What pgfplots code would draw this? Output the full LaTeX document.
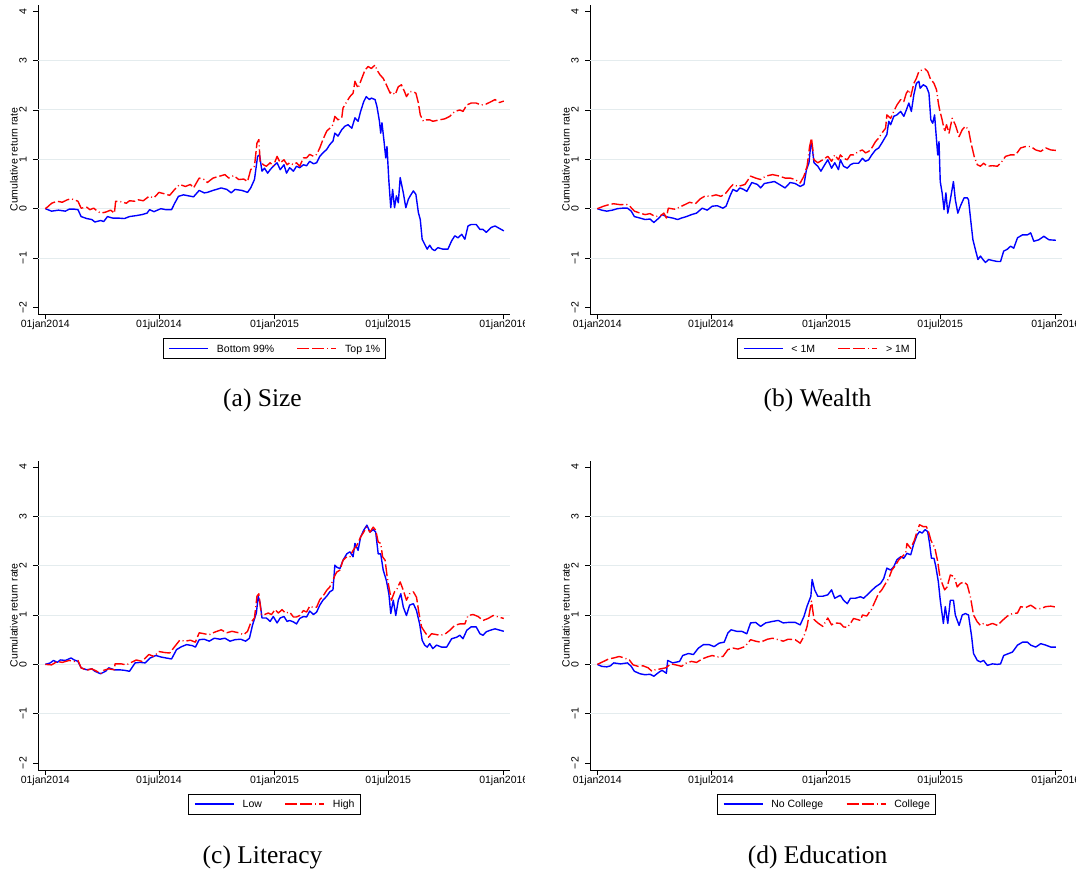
\documentclass[border=0pt]{standalone}
\usepackage{pgfplots}
\pgfplotsset{compat=1.18}
\usepackage{fontspec}
\setmainfont{Liberation Sans}
\newfontfamily\capfont{Liberation Serif}

\definecolor{gridgray}{RGB}{228,236,238}
\newcommand{\stfont}{\fontsize{10.5}{12.6}\selectfont}
\newcommand{\capsize}{\capfont\fontsize{25.5}{30}\selectfont}

% x is the day count from 01jan2014; y is the cumulative return rate
\pgfplotsset{
  cumret/.style={
    scale only axis, width=472pt, height=309.5pt,
    xmin=-11, xmax=740.5, ymin=-2.14, ymax=4.13,
    axis x line*=bottom, axis y line*=left,
    axis line style={-, line width=0.8pt, black},
    tick align=outside, major tick length=5pt,
    every tick/.style={black, line width=0.8pt},
    xtick={0,181,365,546,730},
    xticklabels={01jan2014,01jul2014,01jan2015,01jul2015,01jan2016},
    ytick={-2,-1,0,1,2,3,4},
    yticklabels={−2,−1,0,1,2,3,4},
    extra y ticks={-1,0,1,2,3},
    extra y tick labels={},
    extra y tick style={grid=major, major tick length=0pt},
    major grid style={gridgray, line width=0.9pt},
    tick label style={font=\stfont},
    xticklabel style={anchor=north, inner sep=0pt},
    yticklabel style={rotate=90, anchor=south, inner sep=0pt},
    xticklabel shift=0.8pt,
    yticklabel shift=6.5pt,
    ylabel={Cumulative return rate},
    every axis y label/.style={at={(axis description cs:-0.0522,0.5)},
      rotate=90, anchor=center, inner sep=0pt, font=\stfont},
    legend columns=2,
    legend style={at={(0.5,-0.0766)}, anchor=north, draw=black,
      line width=0.8pt, fill=white, inner xsep=5.5pt, inner ysep=6.2pt,
      font=\stfont,
      nodes={inner sep=0pt, text height=7.6pt, text depth=0pt},
      /tikz/every odd column/.append style={column sep=8pt},
      /tikz/every even column/.append style={column sep=22.6pt}},
    legend cell align=left,
    legend image code/.code={\draw[##1, line width=1.4pt] (0pt,0pt) -- (39pt,0pt);},
  },
  lo/.style={draw=blue, color=blue, line width=1.4pt, line join=round},
  hi/.style={draw=red, color=red, line width=1.4pt, line join=round,
    dash pattern=on 12pt off 3pt on 12pt off 3pt on 1pt off 3pt},
}

\begin{document}
\begin{tikzpicture}[x=1pt,y=1pt]
\path[use as bounding box] (0,0) rectangle (1076,-871);
% lower-left corners of the four plot areas
\coordinate (pa) at (38.4,-314.3);
\coordinate (pb) at (590.4,-314.3);
\coordinate (pc) at (38.4,-770);
\coordinate (pd) at (590.4,-770);

% ---------- (a) Size ----------
\begin{scope}
\clip (0,0) rectangle (524,-440);
\begin{axis}[cumret, at={(pa)}, anchor=south west]
\addplot[lo] coordinates {
(0,0) (10,-0.05) (21,-0.03) (32,-0.05) (38,-0.01) (46,-0.01) (52,-0.02) (57,-0.16)
(66,-0.20) (74,-0.22) (79,-0.27) (88,-0.24) (93,-0.26) (99,-0.16) (107,-0.19)
(115,-0.19) (126,-0.20) (134,-0.16) (145,-0.14) (154,-0.12) (162,-0.09) (166,-0.02)
(173,-0.06) (184,0) (192,-0.02) (201,-0.02) (206,0.11) (212,0.25) (220,0.28)
(228,0.26) (236,0.24) (245,0.37) (253,0.32) (258,0.33) (267,0.37) (275,0.40)
(280,0.42) (289,0.39) (296,0.32) (302,0.39) (313,0.37) (322,0.33) (327,0.42)
(333,0.59) (338,1.06) (341,1.09) (345,0.76) (349,0.82) (354,0.72) (358,0.79)
(363,0.86) (369,0.93) (374,0.79) (380,0.89) (384,0.72) (389,0.83) (395,0.76)
(400,0.86) (405,0.83) (411,0.89) (416,0.87) (421,0.96) (427,0.91) (432,0.93)
(437,1.06) (442,1.13) (448,1.20) (453,1.30) (458,1.37) (461,1.53) (466,1.47)
(472,1.60) (477,1.67) (482,1.70) (488,1.63) (493,1.84) (498,1.77) (502,1.97)
(507,2.17) (511,2.27) (516,2.21) (519,2.24) (525,2.21) (528,2.07) (532,1.77)
(534,1.53) (536,1.74) (539,1.40) (542,1.03) (544,1.26) (547,0.56) (550,0.02)
(553,0.39) (556,0.02) (559,0.26) (562,0.12) (565,0.63) (570,0.32) (574,0.02)
(578,0.19) (581,0.26) (586,0.36) (590,0.29) (594,-0.08) (597,-0.22) (600,-0.62)
(604,-0.72) (608,-0.82) (612,-0.74) (616,-0.82) (620,-0.85) (625,-0.79) (633,-0.82)
(641,-0.82) (647,-0.65) (652,-0.55) (657,-0.59) (663,-0.52) (668,-0.62) (673,-0.35)
(678,-0.32) (686,-0.32) (692,-0.42) (697,-0.42) (702,-0.48) (710,-0.38) (716,-0.35)
(723,-0.40) (730,-0.45)
};
\addlegendentry{Bottom 99\%}
\addplot[hi] coordinates {
(0,0) (5,0.05) (10,0.11) (19,0.15) (27,0.13) (35,0.18) (41,0.20) (46,0.18) (52,0.15)
(57,0.01) (66,0.03) (71,-0.02) (77,0.01) (82,-0.04) (88,-0.09) (96,-0.07) (104,-0.03)
(110,-0.09) (112,0.15) (121,0.14) (129,0.11) (134,0.16) (143,0.15) (148,0.18)
(156,0.16) (165,0.25) (173,0.22) (181,0.33) (190,0.30) (198,0.27) (206,0.39)
(214,0.49) (223,0.45) (231,0.49) (236,0.42) (245,0.62) (253,0.59) (258,0.53)
(267,0.62) (278,0.66) (286,0.69) (292,0.62) (300,0.67) (308,0.59) (316,0.60)
(322,0.55) (327,0.79) (333,0.86) (337,1.33) (340,1.40) (342,0.96) (347,0.89)
(352,0.86) (358,0.93) (363,0.86) (369,1.06) (374,0.93) (380,0.99) (385,0.89)
(389,0.93) (395,0.89) (400,0.93) (405,0.86) (411,1.03) (416,1.03) (421,1.10)
(427,1.06) (432,1.10) (437,1.23) (442,1.40) (448,1.57) (453,1.63) (458,1.70)
(461,1.87) (466,1.80) (472,1.84) (474,2.04) (480,2.17) (485,2.27) (490,2.34)
(493,2.58) (498,2.44) (503,2.61) (509,2.81) (514,2.88) (519,2.84) (525,2.91)
(528,2.81) (533,2.71) (538,2.64) (543,2.51) (549,2.34) (551,2.37) (557,2.31)
(562,2.47) (567,2.51) (572,2.37) (575,2.27) (580,2.37) (586,2.37) (590,2.34)
(594,2.14) (597,1.90) (602,1.77) (607,1.80) (612,1.80) (617,1.77) (628,1.80)
(636,1.82) (644,1.87) (652,1.97) (660,2.00) (665,1.97) (671,2.10) (678,2.14)
(686,2.14) (694,2.10) (702,2.12) (710,2.17) (716,2.21) (723,2.15) (730,2.18)
};
\addlegendentry{Top 1\%}
\end{axis}
\end{scope}

% ---------- (b) Wealth ----------
\begin{scope}
\clip (538,0) rectangle (1076,-440);
\begin{axis}[cumret, at={(pb)}, anchor=south west]
\addplot[lo] coordinates {
(0,0) (7,-0.03) (15,-0.05) (24,-0.03) (32,0) (40,0.01) (48,0.01) (54,-0.05)
(59,-0.16) (68,-0.19) (76,-0.22) (84,-0.21) (90,-0.28) (98,-0.19) (103,-0.12)
(112,-0.17) (120,-0.19) (128,-0.22) (134,-0.19) (142,-0.16) (150,-0.12) (158,-0.09)
(167,0.01) (175,-0.03) (183,0.05) (191,0.06) (200,0.01) (205,0.05) (211,0.25)
(216,0.39) (222,0.35) (227,0.42) (233,0.39) (238,0.35) (246,0.53) (255,0.49)
(260,0.42) (266,0.51) (274,0.53) (282,0.55) (290,0.49) (299,0.42) (307,0.53)
(315,0.51) (323,0.45) (329,0.49) (333,0.79) (337,0.93) (340,1.33) (342,1.26)
(345,0.93) (351,0.86) (356,0.76) (362,0.89) (367,0.99) (373,0.82) (378,0.93)
(384,0.79) (387,0.99) (392,0.86) (398,0.82) (403,0.89) (408,0.92) (416,0.92)
(422,1.02) (427,0.96) (432,0.99) (437,1.09) (443,1.19) (448,1.23) (453,1.33)
(459,1.46) (461,1.50) (464,1.77) (467,1.70) (472,1.87) (477,1.90) (483,1.97)
(488,1.87) (492,2.00) (496,2.14) (500,1.97) (504,2.31) (508,2.54) (512,2.58)
(514,2.44) (519,2.51) (524,2.47) (528,2.34) (531,1.80) (534,1.73) (537,1.90)
(540,1.40) (542,1.09) (544,1.36) (546,0.55) (549,0.32) (552,-0.02) (555,0.32)
(558,-0.09) (562,0.18) (567,0.55) (570,0.18) (574,-0.09) (578,0.05) (584,0.22)
(589,0.22) (591,0.18) (595,-0.29) (598,-0.63) (602,-0.83) (606,-1.03) (610,-0.96)
(614,-1.03) (618,-1.09) (623,-1.03) (629,-1.05) (637,-1.07) (642,-1.07) (647,-0.86)
(653,-0.82) (658,-0.76) (663,-0.80) (669,-0.59) (677,-0.53) (685,-0.53) (690,-0.49)
(695,-0.66) (703,-0.63) (711,-0.56) (719,-0.63) (730,-0.64)
};
\addlegendentry{< 1M}
\addplot[hi] coordinates {
(0,0) (10,0.05) (18,0.08) (26,0.10) (37,0.08) (46,0.09) (51,0.06) (59,-0.05)
(68,-0.09) (76,-0.12) (84,-0.10) (92,-0.16) (101,-0.14) (106,-0.09) (110,-0.19)
(113,0.01) (123,-0.01) (131,0.03) (139,0.08) (147,0.13) (156,0.10) (164,0.20)
(172,0.26) (180,0.25) (189,0.28) (197,0.25) (205,0.32) (211,0.42) (216,0.49)
(224,0.45) (235,0.49) (244,0.66) (252,0.62) (260,0.59) (268,0.66) (279,0.69)
(290,0.66) (299,0.62) (307,0.62) (315,0.59) (323,0.52) (329,0.66) (334,0.86)
(338,1.26) (341,1.43) (345,0.99) (351,0.93) (359,0.99) (367,1.06) (373,0.96)
(378,1.09) (384,0.99) (387,1.09) (392,1.02) (398,0.99) (403,1.09) (408,1.09)
(416,1.16) (422,1.19) (427,1.13) (432,1.16) (437,1.23) (443,1.36) (448,1.43)
(453,1.53) (459,1.63) (461,1.90) (467,1.83) (472,1.97) (477,2.10) (483,2.21)
(488,2.17) (492,2.34) (496,2.41) (499,2.27) (504,2.54) (508,2.64) (512,2.78)
(517,2.81) (522,2.83) (526,2.78) (530,2.64) (536,2.54) (540,2.41) (543,2.14)
(545,2.00) (549,1.80) (553,1.56) (556,1.70) (560,1.53) (565,1.83) (570,1.70)
(576,1.46) (581,1.60) (586,1.67) (591,1.60) (595,1.33) (600,1.06) (605,0.89)
(610,0.86) (615,0.92) (621,0.86) (629,0.87) (637,0.86) (642,0.92) (650,1.06)
(658,1.09) (666,1.09) (674,1.23) (682,1.26) (690,1.26) (698,1.19) (706,1.16)
(714,1.23) (722,1.19) (730,1.18)
};
\addlegendentry{> 1M}
\end{axis}
\end{scope}

% ---------- (c) Literacy ----------
\begin{scope}
\clip (0,-440) rectangle (524,-871);
\begin{axis}[cumret, at={(pc)}, anchor=south west]
\addplot[lo] coordinates {
(0,0) (8,0.03) (13,0.08) (19,0.04) (24,0.09) (32,0.08) (41,0.13) (46,0.09) (52,0.06)
(57,-0.07) (66,-0.11) (74,-0.09) (79,-0.14) (88,-0.19) (96,-0.14) (101,-0.07)
(110,-0.11) (118,-0.11) (126,-0.12) (134,-0.14) (143,0.03) (151,0.04) (159,0.03)
(167,0.13) (176,0.18) (184,0.15) (192,0.13) (201,0.11) (209,0.30) (217,0.36)
(225,0.40) (234,0.38) (239,0.35) (245,0.50) (253,0.51) (261,0.47) (269,0.53)
(278,0.51) (286,0.53) (294,0.47) (302,0.50) (311,0.51) (319,0.47) (325,0.53)
(330,0.80) (336,1.04) (339,1.38) (342,1.24) (345,0.94) (352,0.94) (358,0.87)
(363,0.97) (369,0.84) (374,0.94) (380,0.97) (385,0.87) (389,0.89) (395,0.86)
(400,0.82) (405,0.93) (411,0.97) (416,0.96) (421,1.08) (427,1.01) (432,1.06)
(437,1.20) (442,1.30) (448,1.38) (453,1.47) (458,1.51) (461,2.01) (464,1.97)
(469,1.94) (474,2.11) (480,2.24) (485,2.28) (490,2.18) (493,2.45) (498,2.31)
(502,2.58) (507,2.72) (512,2.82) (517,2.68) (522,2.73) (526,2.68) (530,2.24)
(534,2.24) (538,1.91) (543,1.70) (547,1.43) (550,1.03) (554,1.30) (558,0.99)
(562,1.30) (566,1.43) (570,1.16) (575,0.99) (580,1.20) (586,1.23) (591,1.09)
(596,0.82) (600,0.49) (604,0.39) (608,0.35) (612,0.42) (617,0.32) (623,0.39)
(631,0.35) (639,0.35) (647,0.52) (655,0.55) (660,0.59) (665,0.52) (671,0.69)
(678,0.76) (686,0.76) (692,0.62) (697,0.59) (702,0.66) (708,0.69) (716,0.72)
(730,0.67)
};
\addlegendentry{Low}
\addplot[hi] coordinates {
(0,0) (10,-0.01) (19,0.06) (27,0.04) (38,0.08) (46,0.06) (52,0.08) (57,-0.07)
(66,-0.12) (74,-0.09) (82,-0.14) (88,-0.19) (93,-0.12) (101,-0.09) (110,-0.11)
(111,0.01) (121,0.01) (129,-0.01) (137,0.04) (145,0.09) (154,0.06) (165,0.20)
(173,0.16) (181,0.26) (190,0.24) (198,0.23) (206,0.36) (214,0.49) (223,0.47)
(231,0.49) (239,0.45) (245,0.64) (253,0.62) (261,0.60) (269,0.65) (280,0.70)
(289,0.64) (297,0.67) (308,0.64) (316,0.60) (322,0.67) (327,0.84) (333,0.94)
(337,1.38) (340,1.43) (344,1.01) (349,1.01) (355,1.04) (360,1.01) (366,1.11)
(371,1.04) (377,1.11) (382,1.04) (389,1.06) (395,0.96) (400,0.96) (405,0.99)
(411,1.09) (416,1.06) (421,1.18) (427,1.15) (432,1.16) (437,1.31) (442,1.38)
(448,1.50) (453,1.57) (458,1.70) (461,1.80) (464,1.87) (469,1.91) (474,2.11)
(480,2.18) (485,2.18) (490,2.31) (496,2.41) (502,2.58) (507,2.68) (511,2.78)
(517,2.68) (522,2.78) (526,2.72) (530,2.48) (534,2.45) (537,2.18) (541,2.11)
(544,1.80) (547,1.57) (551,1.30) (556,1.47) (560,1.53) (565,1.67) (570,1.50)
(575,1.30) (580,1.43) (586,1.47) (591,1.36) (595,1.03) (599,0.76) (604,0.66)
(610,0.55) (615,0.62) (620,0.61) (628,0.59) (636,0.61) (644,0.69) (652,0.79)
(660,0.82) (668,0.82) (673,0.99) (681,1.01) (689,0.97) (697,0.89) (705,0.93)
(713,0.99) (730,0.93)
};
\addlegendentry{High}
\end{axis}
\end{scope}

% ---------- (d) Education ----------
\begin{scope}
\clip (538,-440) rectangle (1076,-871);
\begin{axis}[cumret, at={(pd)}, anchor=south west]
\addplot[lo] coordinates {
(0,0) (7,-0.04) (15,-0.05) (21,-0.03) (26,0.03) (37,0.01) (48,0.03) (54,-0.04)
(59,-0.14) (68,-0.19) (76,-0.21) (84,-0.20) (90,-0.24) (98,-0.16) (103,-0.12)
(110,-0.18) (112,0.08) (120,0.03) (131,0.06) (136,0.18) (145,0.22) (153,0.20)
(161,0.33) (169,0.40) (178,0.40) (186,0.36) (194,0.43) (202,0.45) (208,0.64)
(213,0.70) (222,0.67) (230,0.67) (238,0.62) (244,0.84) (252,0.85) (260,0.77)
(268,0.84) (279,0.87) (288,0.89) (296,0.84) (304,0.85) (315,0.85) (323,0.80)
(329,0.97) (334,1.18) (340,1.38) (342,1.72) (346,1.51) (351,1.38) (359,1.38)
(367,1.41) (373,1.51) (378,1.34) (387,1.40) (392,1.30) (398,1.23) (403,1.34)
(411,1.34) (419,1.37) (424,1.34) (429,1.40) (437,1.50) (443,1.57) (451,1.64)
(456,1.74) (461,1.95) (467,1.91) (472,1.98) (477,2.12) (483,2.18) (488,2.15)
(493,2.25) (499,2.22) (504,2.45) (509,2.62) (513,2.69) (517,2.66) (522,2.73)
(526,2.69) (529,2.45) (532,2.15) (536,2.15) (539,1.98) (543,1.67) (546,1.30)
(551,0.83) (554,1.17) (558,0.83) (562,1.30) (567,1.30) (570,1.00) (576,0.79)
(581,1.00) (586,1.03) (591,1.00) (596,0.56) (599,0.22) (605,0.08) (610,0.05)
(615,0.08) (621,-0.02) (629,0.01) (637,0) (642,0.01) (647,0.18) (655,0.22)
(661,0.25) (669,0.39) (677,0.45) (685,0.45) (690,0.39) (698,0.35) (706,0.42)
(714,0.39) (722,0.35) (730,0.35)
};
\addlegendentry{No College}
\addplot[hi] coordinates {
(0,0) (10,0.06) (18,0.11) (26,0.13) (35,0.16) (43,0.13) (51,0.09) (57,-0.01)
(65,-0.04) (73,-0.03) (81,-0.07) (87,-0.14) (92,-0.11) (101,-0.09) (109,-0.07)
(117,0.01) (125,-0.01) (134,-0.04) (142,0.03) (150,0.06) (158,0.04) (167,0.11)
(175,0.15) (183,0.18) (191,0.15) (200,0.16) (208,0.30) (216,0.33) (224,0.31)
(235,0.36) (244,0.50) (252,0.47) (260,0.45) (271,0.51) (279,0.53) (288,0.50)
(296,0.47) (304,0.51) (315,0.50) (323,0.43) (329,0.57) (334,0.77) (341,1.28)
(345,0.91) (351,0.84) (359,0.77) (367,0.94) (373,0.80) (378,0.84) (387,0.83)
(392,0.76) (398,0.75) (403,0.83) (408,0.93) (419,0.89) (422,1.00) (429,0.98)
(437,1.13) (443,1.30) (448,1.44) (453,1.51) (459,1.64) (464,1.74) (469,1.91)
(475,2.01) (480,2.12) (485,2.18) (491,2.25) (493,2.45) (499,2.35) (505,2.52)
(509,2.69) (513,2.83) (519,2.79) (524,2.79) (528,2.66) (531,2.52) (536,2.39)
(538,2.32) (542,2.08) (545,1.81) (549,1.64) (553,1.51) (557,1.57) (562,1.81)
(568,1.78) (573,1.57) (578,1.64) (584,1.67) (589,1.61) (594,1.37) (599,1.00)
(605,0.86) (610,0.79) (615,0.83) (621,0.79) (629,0.83) (637,0.79) (645,0.89)
(653,0.98) (661,1.03) (669,1.04) (674,1.17) (682,1.15) (690,1.20) (698,1.13)
(706,1.13) (714,1.17) (722,1.18) (730,1.16)
};
\addlegendentry{College}
\end{axis}
\end{scope}

% ---------- sub-captions ----------
\node[font=\capsize, anchor=base, inner sep=0pt] at (262.5,-406.2) {(a) Size};
\node[font=\capsize, anchor=base, inner sep=0pt] at (817.5,-406.2) {(b) Wealth};
\node[font=\capsize, anchor=base, inner sep=0pt] at (262.5,-863.2) {(c) Literacy};
\node[font=\capsize, anchor=base, inner sep=0pt] at (817.5,-863.2) {(d) Education};
\end{tikzpicture}
\end{document}
